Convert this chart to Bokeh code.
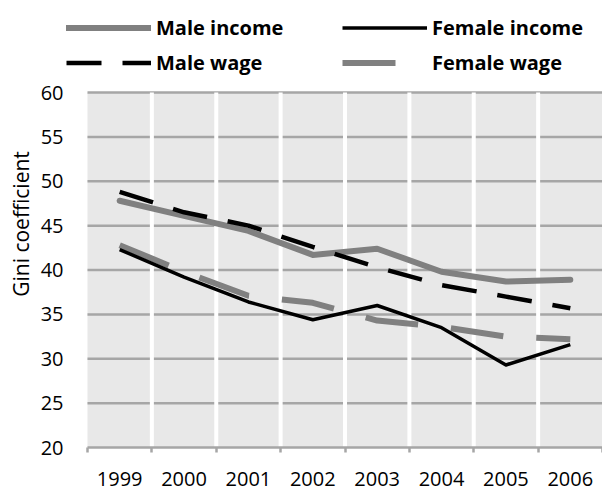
from bokeh.plotting import figure
from bokeh.models import Legend, LegendItem, FixedTicker, Range1d
from bokeh.embed import file_html
from bokeh.resources import INLINE

years = [1999, 2000, 2001, 2002, 2003, 2004, 2005, 2006]
male_income = [47.8, 46.1, 44.4, 41.7, 42.4, 39.8, 38.7, 38.9]
female_income = [42.3, 39.2, 36.4, 34.4, 36.0, 33.5, 29.3, 31.6]
male_wage = [48.8, 46.5, 45.0, 42.6, 40.3, 38.3, 37.0, 35.7]
female_wage = [42.8, 39.8, 37.1, 36.3, 34.3, 33.6, 32.5, 32.2]
y_ticks = [20, 25, 30, 35, 40, 45, 50, 55, 60]
y_title = "Gini coefficient"

n = len(years)
x = list(range(n))
bounds = [i - 0.5 for i in range(n + 1)]

GREY = "#808080"
GRID = "#A6A6A6"
FONT = "Open Sans"

# layout (pixels)
W, H = 602, 493
left_px = 61          # frame left (white legend margin + plot)
plot_left_gap = 26    # white gap between frame left and plot area
bottom_px = 46
frame_w = W - left_px
frame_h = H - bottom_px
unit_x = (frame_w - plot_left_gap) / n
x_start = bounds[0] - plot_left_gap / unit_x
unit_y = 8.875
y_end = y_ticks[-1] + 92 / unit_y
y_start = y_end - frame_h / unit_y

p = figure(width=W, height=H, x_range=Range1d(x_start, bounds[-1]),
           y_range=Range1d(y_start, y_end), output_backend="svg", toolbar_location=None,
           min_border_left=left_px, min_border_right=0, min_border_top=0,
           min_border_bottom=bottom_px)
p.outline_line_color = None
p.background_fill_color = "white"
p.border_fill_color = "white"
p.xgrid.visible = False
p.ygrid.visible = False

# plot area background and grid
p.quad(left=bounds[0], right=bounds[-1], bottom=y_ticks[0], top=y_ticks[-1],
       fill_color="#E8E8E8", line_color=None, level="image")
p.segment(x0=[bounds[0]] * (len(y_ticks) - 1), x1=[bounds[-1]] * (len(y_ticks) - 1),
          y0=y_ticks[1:], y1=y_ticks[1:], line_color=GRID, line_width=2.5, level="underlay")
p.segment(x0=bounds[1:-1], x1=bounds[1:-1], y0=[y_ticks[0]] * (n - 1), y1=[y_ticks[-1]] * (n - 1),
          line_color="white", line_width=4, level="underlay")

# y axis
p.yaxis.ticker = FixedTicker(ticks=y_ticks)
p.yaxis.axis_line_color = None
p.yaxis.major_tick_line_color = None
p.yaxis.minor_tick_line_color = None
p.yaxis.major_label_standoff = -8
p.yaxis.major_label_text_font = FONT
p.yaxis.major_label_text_font_size = "20px"
p.yaxis.major_label_text_color = "black"
p.yaxis.axis_label = y_title
p.yaxis.axis_label_text_font = FONT
p.yaxis.axis_label_text_font_size = "21px"
p.yaxis.axis_label_text_font_style = "normal"
p.yaxis.axis_label_text_color = "black"
p.yaxis.axis_label_standoff = 3

# x axis
p.xaxis.ticker = FixedTicker(ticks=x, minor_ticks=bounds)
p.xaxis.bounds = (bounds[0], bounds[-1])
p.xaxis.major_label_overrides = {i: str(y) for i, y in zip(x, years)}
p.xaxis.axis_line_color = GRID
p.xaxis.axis_line_width = 2.5
p.xaxis.major_tick_line_color = None
p.xaxis.major_tick_out = 0
p.xaxis.major_tick_in = 0
p.xaxis.minor_tick_in = 0
p.xaxis.minor_tick_out = 5
p.xaxis.minor_tick_line_color = GRID
p.xaxis.minor_tick_line_width = 2.5
p.xaxis.major_label_standoff = 19
p.xaxis.major_label_text_font = FONT
p.xaxis.major_label_text_font_size = "20px"
p.xaxis.major_label_text_color = "black"

r_mi = p.line(x, male_income, line_color=GREY, line_width=6, line_cap="round", line_join="round")
r_mw = p.line(x, male_wage, line_color="black", line_width=4.5, line_dash="35 21")
r_fw = p.line(x, female_wage, line_color=GREY, line_width=6, line_dash="53 33")
r_fi = p.line(x, female_income, line_color="black", line_width=3.5, line_join="round")


def make_legend(items, loc):
    return Legend(items=items, location=loc, orientation="vertical",
                  label_text_font=FONT, label_text_font_style="bold",
                  label_text_font_size="20px", label_text_color="black",
                  glyph_width=85, glyph_height=27, label_height=27,
                  label_standoff=5, spacing=8, padding=0, margin=0,
                  border_line_color=None, background_fill_alpha=0)


legend_bottom = 371.5
lg1 = make_legend([LegendItem(label="Male income", renderers=[r_mi]),
                   LegendItem(label="Male wage", renderers=[r_mw])], (5, legend_bottom))
lg2 = make_legend([LegendItem(label="Female income", renderers=[r_fi]),
                   LegendItem(label="Female wage", renderers=[r_fw])], (281, legend_bottom))
p.add_layout(lg1, "center")
p.add_layout(lg2, "center")

open("out.html", "w").write(file_html(p, INLINE))
